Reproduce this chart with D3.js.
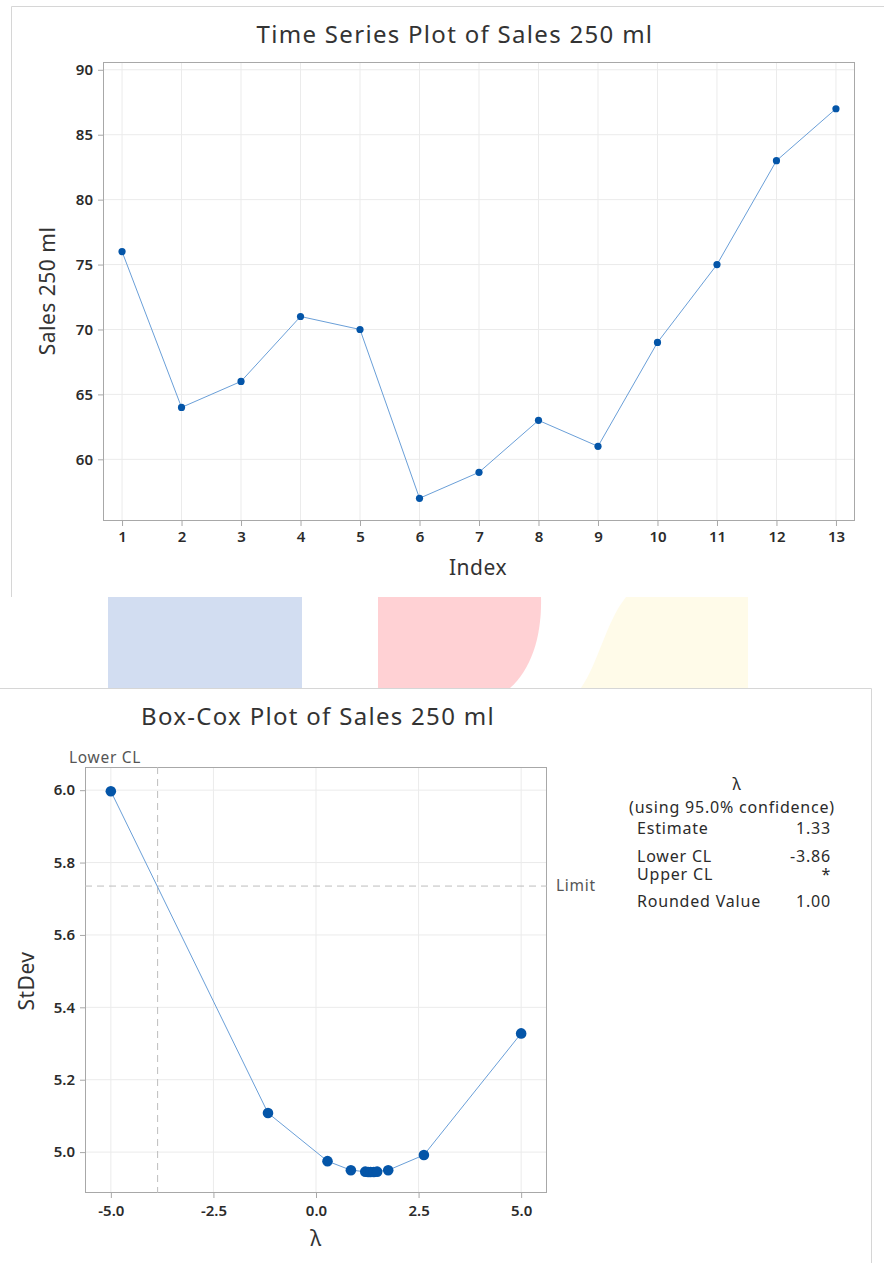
<!DOCTYPE html>
<html><head><meta charset="utf-8">
<script src="https://cdn.jsdelivr.net/npm/d3@7"></script>
<style>
body{margin:0;background:#fff;}
svg{display:block;font-family:"Noto Sans","Open Sans",sans-serif;}
</style>
</head><body>
<svg id="c" width="884" height="1263"></svg>
<script>
// ---------- data ----------
const tsIndex = [1,2,3,4,5,6,7,8,9,10,11,12,13];
const tsSales = [76,64,66,71,70,57,59,63,61,69,75,83,87];
const tsYTicks = [60,65,70,75,80,85,90];
const tsXTicks = [1,2,3,4,5,6,7,8,9,10,11,12,13];

const bcLambda = [-5,-1.17,0.28,0.85,1.2,1.27,1.33,1.41,1.49,1.76,2.63,5];
const bcStDev  = [5.997,5.108,4.975,4.950,4.946,4.945,4.945,4.945,4.946,4.950,4.992,5.328];
const bcXTicks = [-5,-2.5,0,2.5,5];
const bcYTicks = [5.0,5.2,5.4,5.6,5.8,6.0];
const bcLowerCL = -3.86;
const bcLimit = 5.735;
const legendLabels = ["Estimate","Lower CL","Upper CL","Rounded Value"];
const legendValues = ["1.33","-3.86","*","1.00"];

// ---------- styles ----------
const lineCol = "#6a9fd8", dotCol = "#0455a8", gridCol = "#ebebeb", frameCol = "#a8a8a8";
const txt = "#2b2b2b";
const svg = d3.select("#c");
const fmt1 = d => d3.format(".1f")(d).replace("−","-");

// panel borders & decorative band
svg.append("path").attr("d","M884,6.5H11.5V597").attr("fill","none").attr("stroke","#d6d6d6");
svg.append("rect").attr("x",108).attr("y",597).attr("width",194).attr("height",91).attr("fill","#d2ddf1");
svg.append("path").attr("d","M378,597H541C542,635 532,668 510,688H378Z").attr("fill","#ffd1d4");
svg.append("path").attr("d","M626,597H748V688H581C598,664 606,622 626,597Z").attr("fill","#fffbe9");
svg.append("path").attr("d","M0,688.5H871.5V1263").attr("fill","none").attr("stroke","#d6d6d6");

function styleAxis(g){
  g.select(".domain").remove();
  g.selectAll(".tick line").attr("stroke",frameCol);
  g.selectAll(".tick text").attr("fill",txt).style("font-size","15px").style("font-weight","600")
    .style("font-family","'Noto Sans','Open Sans',sans-serif");
}
function title(g,x,y,t){
  g.append("text").attr("x",x).attr("y",y).attr("text-anchor","middle").attr("fill","#333")
    .style("font-size","24px").style("letter-spacing","1.3px").text(t);
}
function axisLabel(g,tr,t){
  g.append("text").attr("transform",tr).attr("text-anchor","middle").attr("fill","#333")
    .style("font-size","21px").style("letter-spacing","0.5px").text(t);
}

// ---------- Time series ----------
{
  const L=103,R=855,T=62,B=521;
  const x=d3.scaleLinear().domain([0.68,13.32]).range([L,R]);
  const y=d3.scaleLinear().domain([55.25,90.6]).range([B,T]);
  const g=svg.append("g");
  g.selectAll(".vg").data(tsXTicks).join("line").attr("x1",d=>x(d)).attr("x2",d=>x(d)).attr("y1",T).attr("y2",B).attr("stroke",gridCol);
  g.selectAll(".hg").data(tsYTicks).join("line").attr("x1",L).attr("x2",R).attr("y1",d=>y(d)).attr("y2",d=>y(d)).attr("stroke",gridCol);
  g.append("rect").attr("x",L+0.5).attr("y",T+0.5).attr("width",R-L-1).attr("height",B-T-1).attr("fill","none").attr("stroke",frameCol);
  const ax=g.append("g").attr("transform",`translate(0,${B})`).call(d3.axisBottom(x).tickValues(tsXTicks).tickSize(5).tickPadding(5).tickFormat(d3.format("d")));
  styleAxis(ax);
  const ay=g.append("g").attr("transform",`translate(${L},0)`).call(d3.axisLeft(y).tickValues(tsYTicks).tickSize(5).tickPadding(5).tickFormat(d3.format("d")));
  styleAxis(ay);
  const pts=tsIndex.map((d,i)=>[d,tsSales[i]]);
  g.append("path").datum(pts).attr("d",d3.line().x(d=>x(d[0])).y(d=>y(d[1]))).attr("fill","none").attr("stroke",lineCol).attr("stroke-width",1);
  g.selectAll(".pt").data(pts).join("circle").attr("cx",d=>x(d[0])).attr("cy",d=>y(d[1])).attr("r",3.6).attr("fill",dotCol);
  title(g,455,43,"Time Series Plot of Sales 250 ml");
  axisLabel(g,"translate(478,575)","Index");
  axisLabel(g,"translate(55,291) rotate(-90)","Sales 250 ml");
}

// ---------- Box-Cox ----------
{
  const L=85,R=547,T=767,B=1193;
  const x=d3.scaleLinear().domain([-5.63,5.63]).range([L,R]);
  const y=d3.scaleLinear().domain([4.887,6.064]).range([B,T]);
  const g=svg.append("g");
  g.selectAll(".vg").data(bcXTicks).join("line").attr("x1",d=>x(d)).attr("x2",d=>x(d)).attr("y1",T).attr("y2",B).attr("stroke",gridCol);
  g.selectAll(".hg").data(bcYTicks).join("line").attr("x1",L).attr("x2",R).attr("y1",d=>y(d)).attr("y2",d=>y(d)).attr("stroke",gridCol);
  g.append("rect").attr("x",L+0.5).attr("y",T+0.5).attr("width",R-L-1).attr("height",B-T-1).attr("fill","none").attr("stroke",frameCol);
  const ax=g.append("g").attr("transform",`translate(0,${B})`).call(d3.axisBottom(x).tickValues(bcXTicks).tickSize(5).tickPadding(7).tickFormat(fmt1));
  styleAxis(ax);
  const ay=g.append("g").attr("transform",`translate(${L},0)`).call(d3.axisLeft(y).tickValues(bcYTicks).tickSize(5).tickPadding(5).tickFormat(fmt1));
  styleAxis(ay);
  // reference lines
  g.append("line").attr("x1",x(bcLowerCL)).attr("x2",x(bcLowerCL)).attr("y1",T).attr("y2",B).attr("stroke","#bdbdbd").attr("stroke-dasharray","7,5");
  g.append("line").attr("x1",L).attr("x2",R).attr("y1",y(bcLimit)).attr("y2",y(bcLimit)).attr("stroke","#bdbdbd").attr("stroke-dasharray","7,5");
  g.append("text").attr("x",69).attr("y",763).attr("fill","#555").style("font-size","15.5px").style("letter-spacing","0.7px").text("Lower CL");
  g.append("text").attr("x",556).attr("y",y(bcLimit)+5).attr("fill","#555").style("font-size","15.5px").style("letter-spacing","0.7px").text("Limit");
  const pts=bcLambda.map((d,i)=>[d,bcStDev[i]]);
  g.append("path").datum(pts).attr("d",d3.line().x(d=>x(d[0])).y(d=>y(d[1]))).attr("fill","none").attr("stroke",lineCol).attr("stroke-width",1);
  g.selectAll(".pt").data(pts).join("circle").attr("cx",d=>x(d[0])).attr("cy",d=>y(d[1])).attr("r",5.3).attr("fill",dotCol);
  title(g,318,725,"Box-Cox Plot of Sales 250 ml");
  axisLabel(g,"translate(316,1246)","λ");
  axisLabel(g,"translate(34,981) rotate(-90)","StDev");
  // legend table
  const lg=g.append("g").attr("fill",txt).style("font-size","16px").style("letter-spacing","0.8px");
  lg.append("text").attr("x",737).attr("y",790).attr("text-anchor","middle").text("λ");
  lg.append("text").attr("x",732).attr("y",813).attr("text-anchor","middle").text("(using 95.0% confidence)");
  const rowY=[834,862,880,907];
  legendLabels.forEach((l,i)=>{
    lg.append("text").attr("x",637).attr("y",rowY[i]).text(l);
    lg.append("text").attr("x",831).attr("y",rowY[i]).attr("text-anchor","end").text(legendValues[i]);
  });
}
</script>
</body></html>
